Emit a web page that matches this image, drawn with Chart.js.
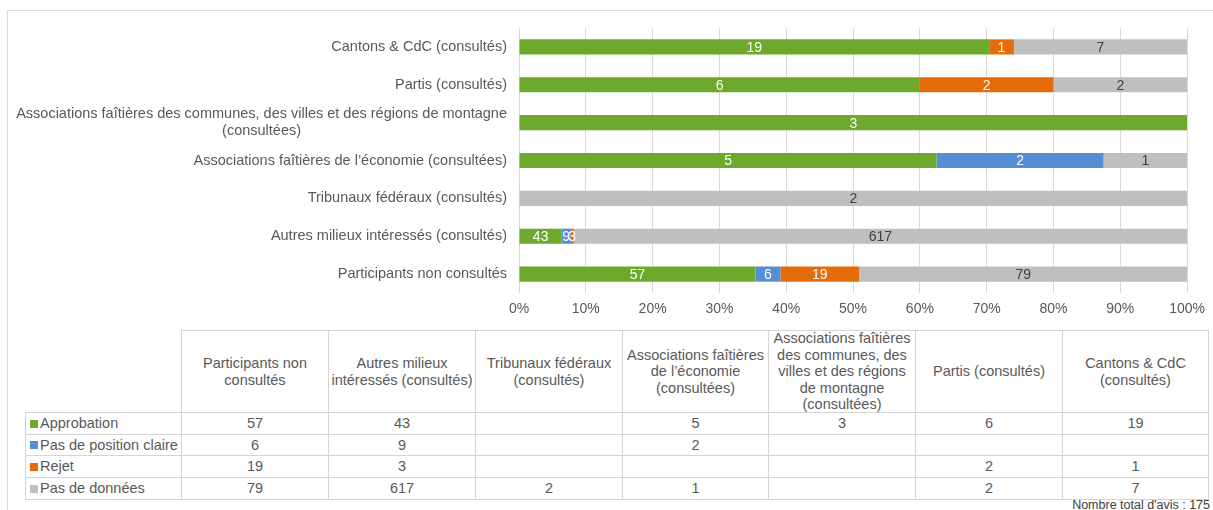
<!DOCTYPE html>
<html><head><meta charset="utf-8">
<script src="https://cdn.jsdelivr.net/npm/chart.js@4"></script>
<style>
html,body{margin:0;padding:0;background:#fff;width:1213px;height:510px;overflow:hidden;font-family:"Liberation Sans",Arial,sans-serif;color:#595959}
#frame{position:absolute;left:7px;top:10px;width:1400px;height:700px;border:1px solid #d9d9d9;box-sizing:border-box}
#chartBox{position:absolute;left:0;top:0;width:1213px;height:330px}
.cell{position:absolute;box-sizing:border-box;border:1px solid #d4d4d4;display:flex;align-items:center;justify-content:center;text-align:center;font-size:14.5px;line-height:16.5px;white-space:nowrap;color:#595959}
.cell.leg{justify-content:flex-start;padding-left:4px}
.mk{display:inline-block;width:8px;height:8px;margin-right:2px}
#total{position:absolute;right:3px;top:498px;font-size:12.5px;color:#404040;white-space:nowrap}
</style></head>
<body>
<div id="frame"></div>
<div id="chartBox"><canvas id="c" width="1213" height="330"></canvas></div>
<div id="tbl"></div>
<div id="total">Nombre total d'avis : 175</div>
<script>
// ---- data ----
const categories = ['Participants non consultés','Autres milieux intéressés (consultés)','Tribunaux fédéraux (consultés)','Associations faîtières de l’économie (consultées)','Associations faîtières des communes, des villes et des régions de montagne (consultées)','Partis (consultés)','Cantons & CdC (consultés)'];
const yAxisLabels = [['Participants non consultés'],['Autres milieux intéressés (consultés)'],['Tribunaux fédéraux (consultés)'],['Associations faîtières de l’économie (consultées)'],['Associations faîtières des communes, des villes et des régions de montagne','(consultées)'],['Partis (consultés)'],['Cantons & CdC (consultés)']];
const tableHeaders = [['Participants non','consultés'],['Autres milieux','intéressés (consultés)'],['Tribunaux fédéraux','(consultés)'],['Associations faîtières','de l’économie','(consultées)'],['Associations faîtières','des communes, des','villes et des régions','de montagne','(consultées)'],['Partis (consultés)'],['Cantons & CdC','(consultés)']];
const seriesNames = ['Approbation','Pas de position claire','Rejet','Pas de données'];
const approbation   = [57, 43, null, 5, 3, 6, 19];
const pasDePosition = [6, 9, null, 2, null, null, null];
const rejet         = [19, 3, null, null, null, 2, 1];
const pasDeDonnees  = [79, 617, 2, 1, null, 2, 7];
const xTickValues = [0,10,20,30,40,50,60,70,80,90,100];
const colors = ['#6DA92D','#558ED5','#E46C0A','#BFBFBF'];
const labelColors = ['#ffffff','#ffffff','#ffffff','#404040'];

const series = [approbation, pasDePosition, rejet, pasDeDonnees];
const totals = categories.map((_,i)=>series.reduce((s,a)=>s+(a[i]||0),0));

const datasets = series.map((vals,k)=>({
  label: seriesNames[k],
  data: vals.map((v,i)=> v==null ? null : v/totals[i]*100),
  raw: vals,
  backgroundColor: colors[k],
  borderWidth: 0,
  categoryPercentage: 0.5,
  barPercentage: 0.8
}));

const FONT = '"Liberation Sans", Arial, sans-serif';

const valueLabels = {
  id:'valueLabels',
  afterDatasetsDraw(chart){
    const ctx = chart.ctx;
    ctx.save();
    ctx.font = '14px ' + FONT;
    ctx.textAlign = 'center';
    ctx.textBaseline = 'middle';
    chart.data.datasets.forEach((ds,k)=>{
      const meta = chart.getDatasetMeta(k);
      meta.data.forEach((bar,i)=>{
        const v = ds.raw[i];
        if (v==null) return;
        ctx.fillStyle = labelColors[k];
        ctx.fillText(String(v), (bar.x+bar.base)/2, bar.y+1);
      });
    });
    ctx.restore();
  }
};

const yLabels = {
  id:'yLabels',
  afterDraw(chart){
    const ys = chart.scales.y;
    const ctx = chart.ctx;
    ctx.save();
    ctx.font = '14.5px ' + FONT;
    ctx.fillStyle = '#595959';
    ctx.textBaseline = 'middle';
    ctx.textAlign = 'center';
    const labels = chart.data.labels;
    labels.forEach((lines,i)=>{
      const yc = ys.getPixelForTick(i);
      const w = Math.max(...lines.map(l=>ctx.measureText(l).width));
      const cx = ys.right - 12 - w/2;
      const lh = 17;
      lines.forEach((l,j)=>ctx.fillText(l, cx, yc + (j-(lines.length-1)/2)*lh));
    });
    ctx.restore();
  }
};

new Chart(document.getElementById('c'), {
  type:'bar',
  data:{ labels: yAxisLabels, datasets },
  options:{
    indexAxis:'y',
    responsive:false,
    animation:false,
    devicePixelRatio:1,
    layout:{ padding:{ top:28, right:25, left:0, bottom:0 } },
    plugins:{ legend:{display:false}, tooltip:{enabled:false} },
    scales:{
      x:{
        stacked:true, min:0, max:100,
        afterBuildTicks(s){ s.ticks = xTickValues.map(v=>({value:v})); },
        afterFit(s){ s.height = 37; },
        ticks:{ callback:v=>v+'%', color:'#595959', font:{size:14, family:FONT}, padding:8, maxRotation:0 },
        grid:{ color:'#d9d9d9', lineWidth:1, drawTicks:false },
        border:{ display:false }
      },
      y:{
        stacked:true, reverse:true,
        afterFit(s){ s.width = 519; },
        ticks:{ display:false },
        grid:{ display:false, drawTicks:false },
        border:{ display:false }
      }
    }
  },
  plugins:[valueLabels, yLabels]
});

// ---- data table ----
const colEdges = [25,181,328,475,622,768,915,1062,1208];
const rowEdges = [330,412,434,455,477,499];
const tbl = document.getElementById('tbl');
function cell(r,c,html,cls){
  const d = document.createElement('div');
  d.className = 'cell' + (cls?' '+cls:'');
  d.style.left = colEdges[c]+'px';
  d.style.top = rowEdges[r]+'px';
  d.style.width = (colEdges[c+1]-colEdges[c]+1)+'px';
  d.style.height = (rowEdges[r+1]-rowEdges[r]+1)+'px';
  d.innerHTML = html;
  tbl.appendChild(d);
}
tableHeaders.forEach((lines,i)=>cell(0,i+1,lines.join('<br>')));
seriesNames.forEach((name,k)=>{
  cell(k+1,0,'<span class="mk" style="background:'+colors[k]+'"></span>'+name,'leg');
  series[k].forEach((v,i)=>cell(k+1,i+1, v==null?'':String(v)));
});
</script>
</body></html>
